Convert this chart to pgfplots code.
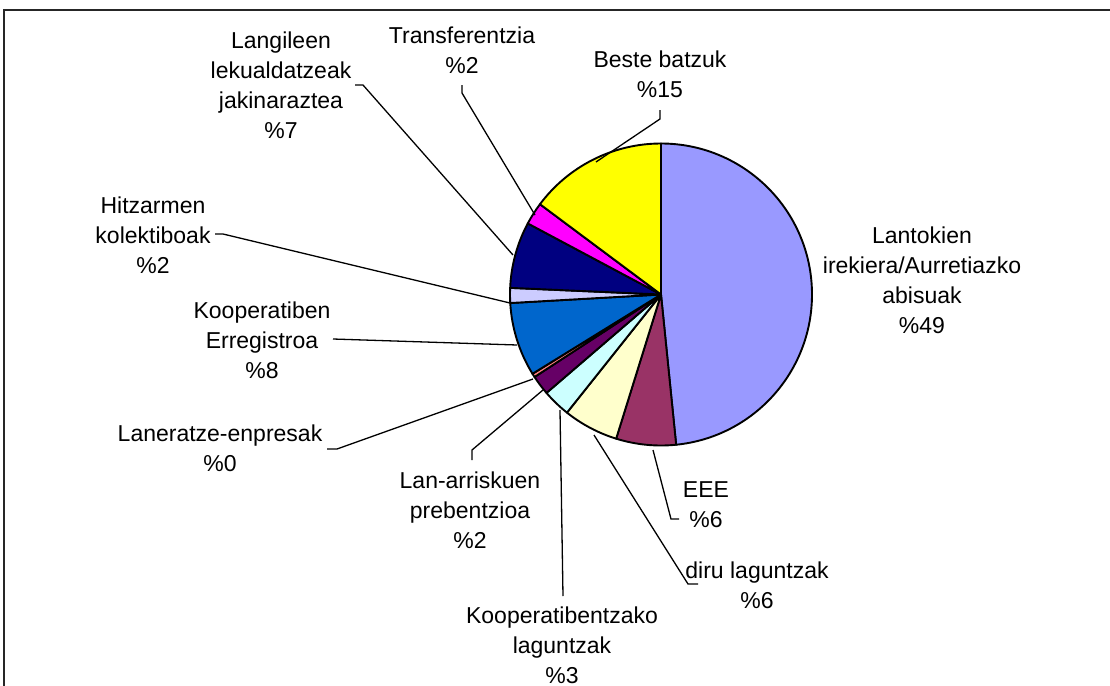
\documentclass[border=0pt]{standalone}
\usepackage{pgfplots}
\usepackage{pgfplotstable}
\pgfplotsset{compat=1.18}
\usepackage{fontspec}
\setmainfont{Liberation Sans}

\definecolor{c1}{HTML}{9999FF}
\definecolor{c2}{HTML}{993366}
\definecolor{c3}{HTML}{FFFFCC}
\definecolor{c4}{HTML}{CCFFFF}
\definecolor{c5}{HTML}{660066}
\definecolor{c6}{HTML}{FF8080}
\definecolor{c7}{HTML}{0066CC}
\definecolor{c8}{HTML}{CCCCFF}
\definecolor{c9}{HTML}{000080}
\definecolor{c10}{HTML}{FF00FF}
\definecolor{c11}{HTML}{FFFF00}

% slice shares (percent), clockwise from 12 o'clock
\pgfplotstableread{
val  col
48.4 c1
6.4  c2
5.9  c3
3.0  c4
2.1  c5
0.4  c6
7.9  c7
1.6  c8
7.1  c9
2.4  c10
14.8 c11
}\piedata

\begin{document}
\begin{tikzpicture}
\begin{axis}[
  width=555pt, height=343pt, scale only axis,
  xmin=0, xmax=1110, ymin=0, ymax=686, y dir=reverse,
  hide axis, clip=false,
]
% frame
\addplot[draw=black!85, line width=1pt, no markers] coordinates {(4,686) (4,10) (1110,10)};

% pie slices
\def\cum{0}
\pgfplotsforeachungrouped \i in {0,...,10}{%
  \pgfplotstablegetelem{\i}{val}\of\piedata \let\sliceval=\pgfplotsretval
  \pgfplotstablegetelem{\i}{col}\of\piedata \let\slicecol=\pgfplotsretval
  \pgfmathsetmacro{\angA}{90-3.6*\cum}%
  \pgfmathsetmacro{\cum}{\cum+\sliceval}%
  \pgfmathsetmacro{\angB}{90-3.6*\cum}%
  \edef\temp{\noexpand\filldraw[fill=\slicecol, draw=black, line width=0.95pt, line join=round]
    (axis cs:661,294.5) -- ++(\angA:75.5pt) arc[start angle=\angA, end angle=\angB, radius=75.5pt] -- cycle;}%
  \temp
}

% leader lines
\pgfplotsset{leader/.style={draw=black, line width=0.65pt, no markers}}
\addplot[leader] coordinates {(653,450) (671,519) (679,519)};
\addplot[leader] coordinates {(594,435) (688,584) (698,584)};
\addplot[leader] coordinates {(560,410) (563,596)};
\addplot[leader] coordinates {(543,390) (472,450) (472,460)};
\addplot[leader] coordinates {(533,379) (337,449) (327,449)};
\addplot[leader] coordinates {(333,339) (517,345)};
\addplot[leader] coordinates {(215,234) (223,234) (510,303)};
\addplot[leader] coordinates {(355,85) (363,85) (513,255)};
\addplot[leader] coordinates {(462,85) (462,93) (535,215)};
\addplot[leader] coordinates {(660,110) (660,119) (596,162)};

% labels
\tikzset{lbl/.style={align=center, font=\fontsize{11.5}{15}\selectfont, inner sep=0pt}}
\node[lbl] at (axis cs:922,280) {Lantokien\\irekiera/Aurretiazko\\abisuak\\\%49};
\node[lbl] at (axis cs:706,505) {EEE\\\%6};
\node[lbl] at (axis cs:757,585) {diru laguntzak\\\%6};
\node[lbl] at (axis cs:562,645) {Kooperatibentzako\\laguntzak\\\%3};
\node[lbl] at (axis cs:470,510) {Lan-arriskuen\\prebentzioa\\\%2};
\node[lbl] at (axis cs:220,448) {Laneratze-enpresak\\\%0};
\node[lbl] at (axis cs:262,340) {Kooperatiben\\Erregistroa\\\%8};
\node[lbl] at (axis cs:153,235) {Hitzarmen\\kolektiboak\\\%2};
\node[lbl] at (axis cs:281,85) {Langileen\\lekualdatzeak\\jakinaraztea\\\%7};
\node[lbl] at (axis cs:462,50) {Transferentzia\\\%2};
\node[lbl] at (axis cs:660,74) {Beste batzuk\\\%15};
\end{axis}
\pgfresetboundingbox
\path (current axis.south west) rectangle (current axis.north east);
\end{tikzpicture}
\end{document}
